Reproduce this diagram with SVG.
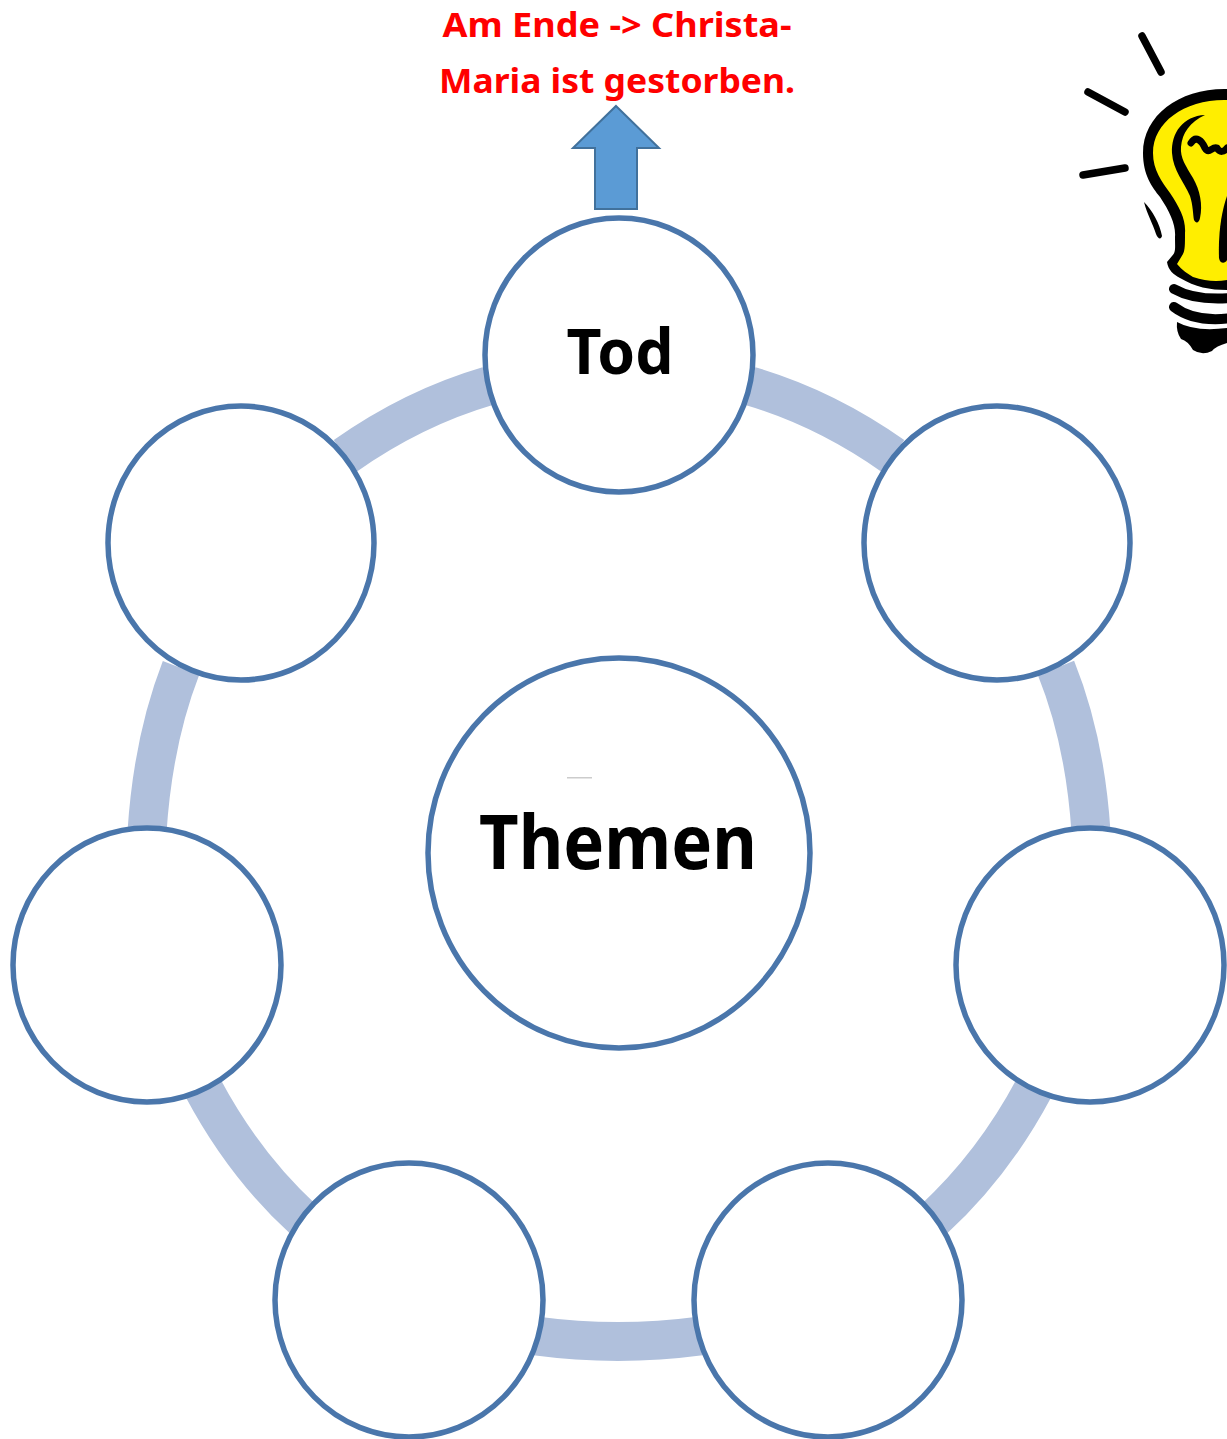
<svg xmlns="http://www.w3.org/2000/svg" width="1227" height="1439" viewBox="0 0 1227 1439">
<style>
.ring{fill:none;stroke:#b0c0dc;stroke-width:39}
.node{fill:#fff;stroke:#4a76ab;stroke-width:5.5}
text{font-family:"Noto Sans","Open Sans","Liberation Sans",sans-serif;font-weight:700;text-anchor:middle}
.lbl{fill:#000}
.note{fill:#f00;font-size:34.5px}
.k{fill:#000}
.ks{fill:none;stroke:#000;stroke-linecap:round;stroke-linejoin:round}
</style>
<rect width="1227" height="1439" fill="#fff"/>
<g id="connectors">
<path class="ring" d="M750,386Q825,408 893,456"/>
<path class="ring" d="M1056,668Q1085,740 1091,832"/>
<path class="ring" d="M1034,1088Q993,1165 933,1220"/>
<path class="ring" d="M700,1336Q618,1347 536,1336"/>
<path class="ring" d="M304,1220Q244,1165 203,1088"/>
<path class="ring" d="M147,832Q153,740 181,668"/>
<path class="ring" d="M345,456Q413,408 488,386"/>
</g>
<g id="node-themen"><ellipse class="node" cx="619" cy="853" rx="191" ry="195"/><rect x="567" y="777" width="25" height="1.5" fill="#ccc"/><text class="lbl" x="618" y="869" font-size="75" textLength="278" lengthAdjust="spacingAndGlyphs">Themen</text></g>
<g id="node-tod"><ellipse class="node" cx="619" cy="355" rx="134" ry="137"/><text class="lbl" x="620" y="374" font-size="63" textLength="107" lengthAdjust="spacingAndGlyphs">Tod</text></g>
<g id="node-2"><ellipse class="node" cx="997" cy="543" rx="133" ry="137"/></g>
<g id="node-3"><ellipse class="node" cx="1090" cy="965" rx="134" ry="137"/></g>
<g id="node-4"><ellipse class="node" cx="828" cy="1300" rx="134" ry="137"/></g>
<g id="node-5"><ellipse class="node" cx="409" cy="1300" rx="134" ry="137"/></g>
<g id="node-6"><ellipse class="node" cx="147" cy="965" rx="134" ry="137"/></g>
<g id="node-7"><ellipse class="node" cx="241" cy="543" rx="133" ry="137"/></g>
<g id="arrow"><path d="M616,106L659,148H637V209H595V148H573Z" fill="#5b9bd5" stroke="#41719c" stroke-width="2"/></g>
<g id="note"><text class="note" x="617" y="37" textLength="349" lengthAdjust="spacingAndGlyphs">Am Ende -&gt; Christa-</text><text class="note" x="617" y="93" textLength="356" lengthAdjust="spacingAndGlyphs">Maria ist gestorben.</text></g>
<g id="bulb">
<path class="ks" stroke-width="7.5" d="M1142,36L1161,72M1088,92L1125,112M1083,175L1125,168"/>
<path class="k" d="M1227,89C1180,88 1143,115 1143,153C1143,175 1152,187 1160,197C1170,212 1176,225 1175,237C1175,248 1176,252 1172,256L1167,262C1168,270 1174,275 1180,278C1195,287 1210,290 1227,290Z"/>
<path d="M1227,100C1185,99 1153,122 1153,153C1153,170 1162,182 1170,193C1180,208 1186,220 1185,233C1185,245 1185,250 1183,254L1177,264C1182,270 1188,274 1193,277C1205,281 1216,282 1227,280Z" fill="#ffee00"/>
<path class="k" d="M1205,115C1183,116 1171,133 1172,153C1173,170 1184,182 1190,196C1193,205 1193,215 1194,220C1196,224 1199,223 1200,218C1203,205 1200,190 1193,178C1186,166 1180,158 1181,147C1182,133 1190,122 1205,115Z"/>
<path class="ks" stroke-width="7" fill="none" d="M1191,143C1196,135 1202,141 1205,148C1209,155 1212,146 1217,148C1220,153 1224,152 1227,148"/>
<path class="k" d="M1227,196C1222,210 1218,232 1219,258C1220,264 1225,264 1227,260Z"/>
<path class="k" d="M1144,202C1152,210 1160,224 1162,236C1161,240 1158,239 1156,234C1153,224 1147,214 1144,202Z"/>
<path class="ks" stroke-width="10" d="M1174,289Q1195,301 1232,298M1174,307Q1195,323 1232,318"/>
<path class="k" d="M1177,322Q1195,332 1227,328V343Q1216,346 1212,351Q1202,356 1193,350Q1188,341 1181,339Q1176,332 1177,322Z"/>
</g>
</svg>
